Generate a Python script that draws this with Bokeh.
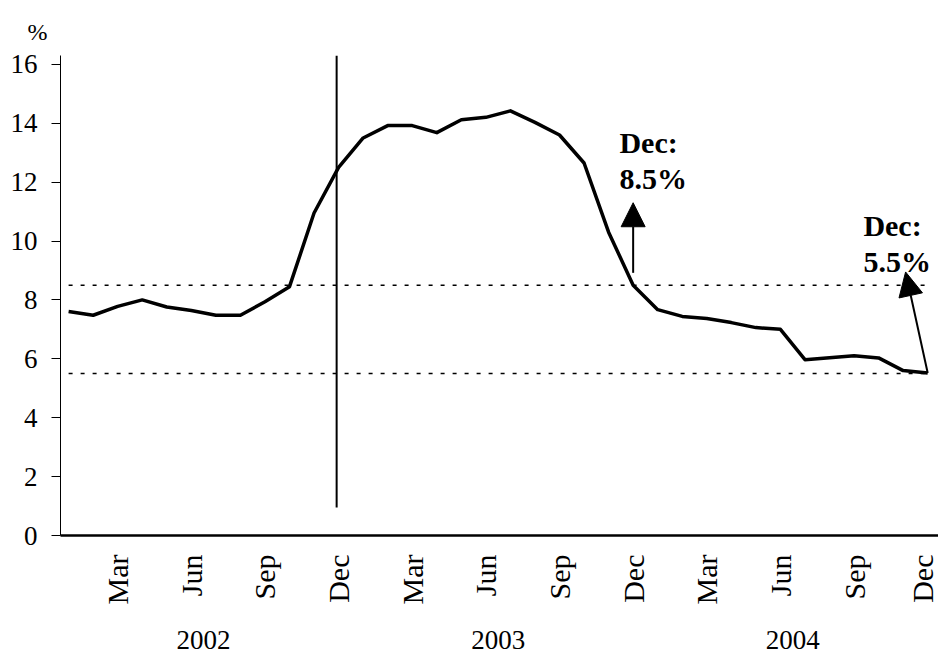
from bokeh.plotting import figure
from bokeh.models import (Range1d, FixedTicker, LinearAxis, Arrow, NormalHead, Title)
from bokeh.core.properties import value
from bokeh.embed import file_html
from bokeh.resources import INLINE
import math

# ---- data ----
month_names = ["Jan", "Feb", "Mar", "Apr", "May", "Jun",
               "Jul", "Aug", "Sep", "Oct", "Nov", "Dec"]
years = ["2002", "2003", "2004"]
rate_2002 = [7.61, 7.48, 7.78, 8.0, 7.76, 7.64, 7.48, 7.48, 7.94, 8.45, 10.95, 12.5]
rate_2003 = [13.5, 13.92, 13.92, 13.68, 14.12, 14.2, 14.42, 14.03, 13.6, 12.65, 10.3, 8.5]
rate_2004 = [7.67, 7.44, 7.37, 7.23, 7.06, 7.0, 5.97, 6.04, 6.1, 6.03, 5.6, 5.52]
upper_band = 8.5
lower_band = 5.5
label_months = ["Mar", "Jun", "Sep", "Dec"]
note_1 = ["Dec:", "8.5%"]
note_2 = ["Dec:", "5.5%"]

rates = rate_2002 + rate_2003 + rate_2004
n = len(rates)
xs = list(range(n))
FONT = "Liberation Serif"

p = figure(width=938, height=655, output_backend="svg", toolbar_location=None,
           x_range=Range1d(-0.33, 35.44), y_range=Range1d(0, 16.3),
           min_border_left=60, min_border_right=0, min_border_top=55,
           min_border_bottom=10, x_axis_type=None)
p.outline_line_color = None
p.grid.visible = False
p.background_fill_color = "white"
p.border_fill_color = "white"

p.title = Title(text="%", align="left", offset=-33, standoff=22,
                text_font=FONT, text_font_size="24px", text_font_style="normal",
                text_color="black")

# y axis
p.yaxis.ticker = FixedTicker(ticks=[0, 2, 4, 6, 8, 10, 12, 14, 16])
p.yaxis.major_label_text_font = FONT
p.yaxis.major_label_text_font_size = "27px"
p.yaxis.major_label_text_color = "black"
p.yaxis.axis_line_color = "black"
p.yaxis.axis_line_width = 1
p.yaxis.major_tick_line_color = "black"
p.yaxis.major_tick_in = 0
p.yaxis.major_tick_out = 9
p.yaxis.minor_tick_line_color = None
p.yaxis.major_label_standoff = 14

# month axis
tick_idx = [i for i in xs if month_names[i % 12] in label_months]
month_axis = LinearAxis(ticker=FixedTicker(ticks=tick_idx),
                        major_label_overrides={i: month_names[i % 12] for i in tick_idx},
                        major_label_orientation=math.pi / 2,
                        major_label_text_font=FONT,
                        major_label_text_font_size="30px",
                        major_label_text_color="black",
                        major_tick_line_color=None,
                        minor_tick_line_color=None,
                        axis_line_color="black", axis_line_width=2.5,
                        major_label_standoff=13)
p.add_layout(month_axis, "below")

# year axis
year_ticks = [(12 * k + 5.5) for k in range(len(years))]
year_axis = LinearAxis(ticker=FixedTicker(ticks=year_ticks),
                       major_label_overrides={t: y for t, y in zip(year_ticks, years)},
                       major_label_text_font=FONT,
                       major_label_text_font_size="27px",
                       major_label_text_color="black",
                       major_tick_line_color=None,
                       minor_tick_line_color=None,
                       axis_line_color=None,
                       major_label_standoff=17,
                       axis_label=" ", axis_label_text_font_size="1px",
                       axis_label_standoff=0)
p.add_layout(year_axis, "below")

# band lines
p.line(xs, [upper_band] * n, line_color="black", line_width=1.5, line_dash="4 8")
p.line(xs, [lower_band] * n, line_color="black", line_width=1.5, line_dash="4 8")

# vertical marker at Dec 2002
dec02 = 11
p.segment(x0=[dec02 - 0.08], y0=[0.95], x1=[dec02 - 0.08], y1=[16.3],
          line_color="black", line_width=2)

# main series
p.line(xs, rates, line_color="black", line_width=3.5, line_join="round")

# arrows
dec03 = 23
p.add_layout(Arrow(end=NormalHead(size=24, fill_color="black", line_color="black"),
                   x_start=dec03, y_start=rates[dec03] + 0.42, x_end=dec03, y_end=11.3,
                   line_color="black", line_width=2))
dec04 = n - 1
p.add_layout(Arrow(end=NormalHead(size=24, fill_color="black", line_color="black"),
                   x_start=dec04, y_start=rates[dec04], x_end=34.1, y_end=8.95,
                   line_color="black", line_width=2))

# notes
p.text(x=[22.44, 22.44], y=[13.36, 12.14], text=note_1,
       text_font=value(FONT), text_font_size="30px", text_font_style="bold",
       text_color="black", text_baseline="alphabetic", text_align="left")
p.text(x=[32.38, 32.38], y=[10.54, 9.29], text=note_2,
       text_font=value(FONT), text_font_size="30px", text_font_style="bold",
       text_color="black", text_baseline="alphabetic", text_align="left")

open("out.html", "w").write(file_html(p, INLINE))
